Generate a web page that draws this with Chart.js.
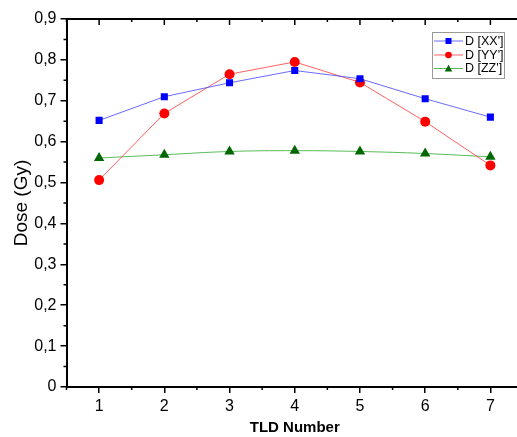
<!DOCTYPE html>
<html><head><meta charset="utf-8">
<script src="https://cdn.jsdelivr.net/npm/chart.js@4/dist/chart.umd.min.js"></script>
<style>html,body{margin:0;padding:0;background:#fff;overflow:hidden;width:517px;height:437px}#wrap{width:530px;height:437px}</style>
</head><body><div id="wrap"><canvas id="c" width="530" height="437"></canvas></div>
<script>
const tldNumbers = [1, 2, 3, 4, 5, 6, 7];
const doseXX = [0.652, 0.710, 0.744, 0.774, 0.754, 0.705, 0.660];
const doseYY = [0.506, 0.669, 0.765, 0.795, 0.745, 0.649, 0.542];
const doseZZ = [0.560, 0.568, 0.576, 0.578, 0.576, 0.571, 0.563];
const yTicks = [0, 0.1, 0.2, 0.3, 0.4, 0.5, 0.6, 0.7, 0.8, 0.9];
const seriesNames = ["D [XX']", "D [YY']", "D [ZZ']"];

const FONT = "'Liberation Sans', Arial, sans-serif";
const pts = (arr) => tldNumbers.map((x, i) => ({x, y: arr[i]}));

const frame = {
  id: 'frame',
  afterDraw(chart) {
    const {ctx, chartArea: a, scales: {x, y}} = chart;
    ctx.save();
    ctx.strokeStyle = '#000';
    ctx.lineWidth = 2;
    ctx.beginPath();
    ctx.moveTo(a.left, a.top); ctx.lineTo(a.right, a.top);
    ctx.moveTo(a.right, a.top); ctx.lineTo(a.right, a.bottom);
    ctx.stroke();
    ctx.lineWidth = 1.5;
    ctx.beginPath();
    for (let v = 0.5; v <= 7.5; v += 0.5) {
      const px = x.getPixelForValue(v);
      const major = Number.isInteger(v);
      if (!major) { ctx.moveTo(px, a.bottom); ctx.lineTo(px, a.bottom + 3); }
      ctx.moveTo(px, a.top); ctx.lineTo(px, a.top + (major ? 6 : 3));
    }
    for (let k = 0; k <= 18; k++) {
      const v = k * 0.05;
      const py = y.getPixelForValue(v);
      const major = k % 2 === 0;
      if (!major) { ctx.moveTo(a.left, py); ctx.lineTo(a.left - 3, py); }
      ctx.moveTo(a.right, py); ctx.lineTo(a.right - (major ? 6 : 3), py);
    }
    ctx.stroke();

    // legend
    const bx = 432, by = 32, bw = 72, bh = 46;
    ctx.fillStyle = '#fff';
    ctx.fillRect(bx, by, bw, bh);
    ctx.strokeStyle = '#9a9a9a';
    ctx.lineWidth = 1;
    ctx.strokeRect(bx + 0.5, by + 0.5, bw, bh);
    const rows = [41, 55, 68.5];
    chart.data.datasets.forEach((ds, i) => {
      const ry = rows[i];
      ctx.strokeStyle = ds.borderColor;
      ctx.lineWidth = 1;
      ctx.beginPath(); ctx.moveTo(434, ry); ctx.lineTo(463, ry); ctx.stroke();
      ctx.fillStyle = ds.pointBackgroundColor;
      const cx = 448.5;
      if (ds.pointStyle === 'rect') ctx.fillRect(cx - 3, ry - 3, 6, 6);
      else if (ds.pointStyle === 'circle') { ctx.beginPath(); ctx.arc(cx, ry, 3.3, 0, Math.PI * 2); ctx.fill(); }
      else { ctx.beginPath(); ctx.moveTo(cx, ry - 3.8); ctx.lineTo(cx + 3.8, ry + 3); ctx.lineTo(cx - 3.8, ry + 3); ctx.closePath(); ctx.fill(); }
      ctx.fillStyle = '#000';
      ctx.font = '12.5px ' + FONT;
      ctx.textBaseline = 'middle';
      ctx.textAlign = 'left';
      ctx.fillText(ds.label, 465, ry + 0.5);
    });
    ctx.restore();
  }
};

new Chart(document.getElementById('c'), {
  type: 'line',
  data: {
    datasets: [
      {label: seriesNames[0], data: pts(doseXX), borderColor: 'rgba(80,80,255,0.85)', borderWidth: 1,
       pointStyle: 'rect', pointRadius: 5, pointBackgroundColor: '#0000ff', pointBorderColor: '#0000ff', pointBorderWidth: 0},
      {label: seriesNames[1], data: pts(doseYY), borderColor: 'rgba(255,80,80,0.9)', borderWidth: 1,
       pointStyle: 'circle', pointRadius: 5, pointBackgroundColor: '#ff0000', pointBorderColor: '#ff0000', pointBorderWidth: 0},
      {label: seriesNames[2], data: pts(doseZZ), borderColor: 'rgba(70,180,70,0.9)', borderWidth: 1, tension: 0.4,
       pointStyle: 'triangle', pointRadius: 6, pointBackgroundColor: '#006600', pointBorderColor: '#006600', pointBorderWidth: 0}
    ]
  },
  options: {
    responsive: false,
    animation: false,
    events: [],
    layout: {padding: {left: 0, top: 19, right: 7, bottom: 0}},
    plugins: {legend: {display: false}, tooltip: {enabled: false}},
    scales: {
      x: {
        type: 'linear', min: 0.5, max: 7.5,
        afterBuildTicks: s => { s.ticks = tldNumbers.map(v => ({value: v})); },
        afterFit: s => { s.height = 50; },
        grid: {display: true, drawOnChartArea: false, tickLength: 6, color: '#000', lineWidth: 1.5},
        border: {display: true, color: '#000', width: 2},
        ticks: {color: '#000', font: {family: FONT, size: 16}, padding: 4, maxRotation: 0},
        title: {display: true, text: 'TLD Number', color: '#000', font: {family: FONT, size: 15, weight: 'bold'}, padding: {top: 0, bottom: 0}}
      },
      y: {
        type: 'linear', min: 0, max: 0.9,
        afterBuildTicks: s => { s.ticks = yTicks.map(v => ({value: v})); },
        afterFit: s => { s.width = 66.5; },
        grid: {display: true, drawOnChartArea: false, tickLength: 6, color: '#000', lineWidth: 1.5},
        border: {display: true, color: '#000', width: 2},
        ticks: {color: '#000', font: {family: FONT, size: 16}, padding: 4,
                callback: v => (v === 0 ? '0' : v.toFixed(1).replace('.', ','))},
        title: {display: true, text: 'Dose (Gy)', color: '#000', font: {family: FONT, size: 19}, padding: {top: 10, bottom: 0}}
      }
    }
  },
  plugins: [frame]
});
</script></body></html>
